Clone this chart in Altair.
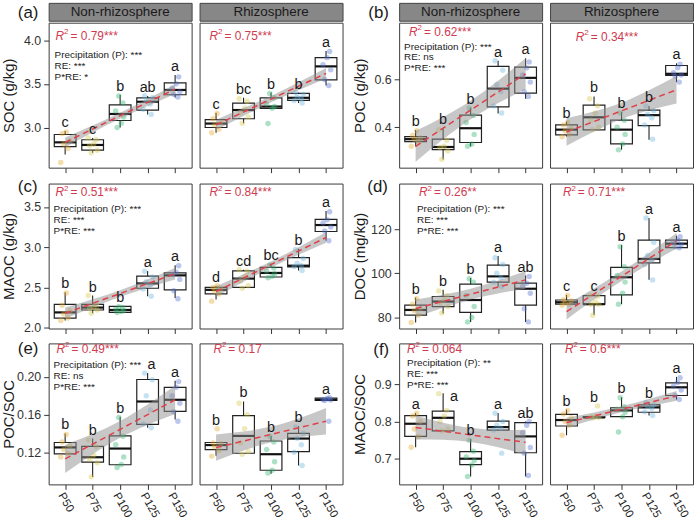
import altair as alt
import pandas as pd

FONT = "Liberation Sans"
LEVELS = ["P50", "P75", "P100", "P125", "P150"]
ZONES = ["Non-rhizosphere", "Rhizosphere"]
LEVEL_COLORS = ["#E3A92B", "#D8C84A", "#33B36E", "#6FB6E2", "#5470D2"]

# Box statistics per precipitation level: [lower whisker, Q1, median, Q3, upper whisker]
# ---- SOC (g/kg)
SOC_NR_BOX = [[2.69, 2.78, 2.83, 2.92, 2.96], [2.71, 2.74, 2.80, 2.86, 2.88],
              [3.00, 3.08, 3.155, 3.26, 3.375], [3.15, 3.20, 3.295, 3.34, 3.36],
              [3.345, 3.375, 3.43, 3.51, 3.60]]
SOC_NR_PTS = [[2.60, 2.76, 2.81, 2.85, 2.93, 2.95], [2.71, 2.74, 2.79, 2.81, 2.86, 2.88],
              [3.00, 3.05, 3.12, 3.19, 3.28, 3.36], [3.15, 3.21, 3.27, 3.31, 3.34, 3.36],
              [3.35, 3.38, 3.41, 3.45, 3.50, 3.58]]
SOC_NR_LET = ["c", "c", "b", "ab", "a"]
SOC_NR_FIT = [2.83, 3.44]
SOC_NR_CI = [0.055, 0.040, 0.033, 0.040, 0.055]
SOC_R_BOX = [[2.94, 3.00, 3.045, 3.09, 3.17], [3.05, 3.10, 3.20, 3.28, 3.34],
             [3.22, 3.22, 3.24, 3.34, 3.40], [3.28, 3.31, 3.34, 3.39, 3.40],
             [3.48, 3.545, 3.70, 3.80, 3.875]]
SOC_R_PTS = [[2.94, 2.98, 3.03, 3.06, 3.10, 3.16], [3.05, 3.12, 3.17, 3.22, 3.30, 3.33],
             [3.045, 3.22, 3.24, 3.27, 3.34, 3.39], [3.28, 3.31, 3.33, 3.35, 3.38, 3.40],
             [3.48, 3.55, 3.66, 3.72, 3.80, 3.87]]
SOC_R_LET = ["c", "bc", "b", "b", "a"]
SOC_R_FIT = [3.03, 3.62]
SOC_R_CI = [0.060, 0.045, 0.037, 0.045, 0.060]

# ---- POC (g/kg)
POC_NR_BOX = [[0.319, 0.34, 0.35, 0.361, 0.389], [0.264, 0.306, 0.317, 0.35, 0.396],
              [0.319, 0.336, 0.396, 0.451, 0.482], [0.458, 0.486, 0.5625, 0.656, 0.68],
              [0.52, 0.544, 0.608, 0.653, 0.69]]
POC_NR_PTS = [[0.32, 0.34, 0.35, 0.355, 0.365, 0.385], [0.265, 0.30, 0.315, 0.32, 0.345, 0.39],
              [0.32, 0.33, 0.37, 0.42, 0.45, 0.48], [0.46, 0.49, 0.55, 0.58, 0.64, 0.68],
              [0.53, 0.55, 0.59, 0.62, 0.65, 0.675]]
POC_NR_LET = ["b", "b", "b", "a", "a"]
POC_NR_FIT = [0.32, 0.625]
POC_NR_CI = [0.065, 0.047, 0.039, 0.047, 0.065]
POC_R_BOX = [[0.361, 0.368, 0.39, 0.41, 0.424], [0.389, 0.389, 0.442, 0.493, 0.53],
             [0.306, 0.33, 0.39, 0.43, 0.465], [0.347, 0.407, 0.451, 0.472, 0.49],
             [0.59, 0.618, 0.625, 0.66, 0.669]]
POC_R_PTS = [[0.36, 0.37, 0.385, 0.395, 0.41, 0.42], [0.39, 0.40, 0.43, 0.46, 0.49, 0.52],
             [0.305, 0.33, 0.37, 0.40, 0.43, 0.46], [0.35, 0.41, 0.44, 0.455, 0.47, 0.49],
             [0.59, 0.615, 0.62, 0.63, 0.65, 0.665]]
POC_R_LET = ["b", "b", "b", "b", "a"]
POC_R_FIT = [0.38, 0.558]
POC_R_CI = [0.058, 0.042, 0.034, 0.042, 0.058]

# ---- MAOC (g/kg)
MAOC_NR_BOX = [[2.09, 2.12, 2.19, 2.29, 2.44], [2.18, 2.22, 2.25, 2.29, 2.40],
               [2.19, 2.19, 2.22, 2.265, 2.265], [2.39, 2.49, 2.55, 2.64, 2.705],
               [2.37, 2.47, 2.65, 2.68, 2.775]]
MAOC_NR_PTS = [[2.09, 2.12, 2.17, 2.21, 2.28, 2.43], [2.18, 2.22, 2.24, 2.26, 2.29, 2.40],
               [2.19, 2.20, 2.21, 2.23, 2.25, 2.26], [2.39, 2.48, 2.53, 2.57, 2.63, 2.70],
               [2.36, 2.46, 2.60, 2.66, 2.69, 2.77]]
MAOC_NR_LET = ["b", "b", "b", "a", "a"]
MAOC_NR_FIT = [2.18, 2.67]
MAOC_NR_CI = [0.070, 0.050, 0.040, 0.050, 0.070]
MAOC_R_BOX = [[2.35, 2.42, 2.47, 2.50, 2.52], [2.49, 2.50, 2.61, 2.705, 2.72],
              [2.63, 2.63, 2.68, 2.75, 2.79], [2.71, 2.755, 2.77, 2.87, 2.98],
              [3.08, 3.195, 3.275, 3.345, 3.45]]
MAOC_R_PTS = [[2.33, 2.42, 2.45, 2.48, 2.50, 2.52], [2.49, 2.52, 2.58, 2.64, 2.70, 2.72],
              [2.62, 2.64, 2.67, 2.70, 2.74, 2.78], [2.71, 2.76, 2.77, 2.80, 2.86, 2.97],
              [3.08, 3.20, 3.25, 3.30, 3.34, 3.44]]
MAOC_R_LET = ["d", "cd", "bc", "b", "a"]
MAOC_R_FIT = [2.45, 3.12]
MAOC_R_CI = [0.065, 0.047, 0.038, 0.047, 0.065]

# ---- DOC (mg/kg)
DOC_NR_BOX = [[77.7, 81.1, 83.4, 85.6, 89.0], [81.8, 84.9, 87.2, 89.5, 92.5],
              [78.0, 82.3, 87.9, 95.1, 97.9], [94.0, 96.0, 98.6, 103.7, 107.8],
              [78.0, 85.6, 93.0, 95.5, 99.0]]
DOC_NR_PTS = [[77.7, 81.0, 83.0, 84.0, 86.0, 88.5], [82.0, 85.0, 86.5, 88.0, 90.0, 92.0],
              [78.0, 80.0, 85.0, 90.0, 96.0, 97.5], [94.0, 96.0, 98.0, 100.0, 104.0, 107.0],
              [78.0, 84.0, 91.0, 94.0, 95.5, 98.5]]
DOC_NR_LET = ["b", "b", "b", "a", "ab"]
DOC_NR_FIT = [84.1, 97.0]
DOC_NR_CI = [4.0, 2.9, 2.4, 2.9, 4.0]
DOC_R_BOX = [[86.0, 86.0, 86.9, 87.9, 90.2], [81.1, 86.0, 86.0, 89.9, 89.9],
             [86.0, 90.2, 98.2, 102.7, 112.8], [97.1, 104.7, 106.5, 115.0, 125.0],
             [111.6, 111.6, 113.4, 115.0, 117.0]]
DOC_R_PTS = [[85.5, 86.0, 86.5, 87.5, 88.0, 90.0], [81.0, 86.0, 86.0, 87.0, 89.5, 90.0],
             [86.0, 91.0, 96.0, 99.0, 103.0, 112.0], [97.0, 104.0, 106.0, 108.0, 114.0, 125.0],
             [111.5, 112.0, 113.0, 114.0, 115.0, 116.5]]
DOC_R_LET = ["c", "c", "b", "a", "a"]
DOC_R_FIT = [82.6, 114.7]
DOC_R_CI = [3.5, 2.5, 2.1, 2.5, 3.5]

# ---- POC/SOC
PS_NR_BOX = [[0.118, 0.1183, 0.1252, 0.1304, 0.140], [0.0939, 0.1096, 0.1148, 0.1263, 0.1346],
             [0.1068, 0.1068, 0.124, 0.1374, 0.1576], [0.146, 0.1496, 0.1739, 0.1972, 0.2042],
             [0.1548, 0.1635, 0.1757, 0.1889, 0.1958]]
PS_NR_PTS = [[0.115, 0.119, 0.123, 0.127, 0.131, 0.139], [0.094, 0.109, 0.113, 0.117, 0.126, 0.133],
             [0.104, 0.107, 0.115, 0.128, 0.137, 0.157], [0.146, 0.150, 0.165, 0.180, 0.197, 0.204],
             [0.153, 0.163, 0.172, 0.180, 0.189, 0.195]]
PS_NR_LET = ["b", "b", "b", "a", "a"]
PS_NR_FIT = [0.113, 0.1757]
PS_NR_CI = [0.0150, 0.0108, 0.0090, 0.0108, 0.0150]
PS_R_BOX = [[0.1165, 0.1228, 0.1277, 0.1304, 0.1304], [0.119, 0.119, 0.1374, 0.159, 0.174],
            [0.0974, 0.101, 0.118, 0.132, 0.1374], [0.106, 0.1207, 0.1346, 0.140, 0.1478],
            [0.175, 0.175, 0.1757, 0.1774, 0.1774]]
PS_R_PTS = [[0.116, 0.122, 0.126, 0.129, 0.130, 0.145], [0.118, 0.121, 0.130, 0.145, 0.160, 0.172],
            [0.098, 0.101, 0.110, 0.123, 0.131, 0.137], [0.106, 0.120, 0.128, 0.135, 0.140, 0.147],
            [0.153, 0.175, 0.1755, 0.176, 0.177, 0.178]]
PS_R_LET = ["b", "b", "b", "b", "a"]
PS_R_FIT = [0.125, 0.153]
PS_R_CI = [0.014, 0.010, 0.0083, 0.010, 0.014]

# ---- MAOC/SOC
MS_NR_BOX = [[0.731, 0.760, 0.794, 0.816, 0.823], [0.775, 0.775, 0.810, 0.828, 0.876],
             [0.652, 0.684, 0.700, 0.719, 0.753], [0.777, 0.777, 0.785, 0.801, 0.823],
             [0.652, 0.716, 0.760, 0.797, 0.800]]
MS_NR_PTS = [[0.731, 0.760, 0.780, 0.800, 0.815, 0.822], [0.775, 0.780, 0.800, 0.815, 0.830, 0.875],
             [0.652, 0.683, 0.695, 0.705, 0.720, 0.750], [0.715, 0.777, 0.782, 0.790, 0.800, 0.822],
             [0.655, 0.715, 0.730, 0.770, 0.790, 0.800]]
MS_NR_LET = ["a", "a", "b", "a", "ab"]
MS_NR_FIT = [0.784, 0.744]
MS_NR_CI = [0.032, 0.023, 0.019, 0.023, 0.034]
MS_R_BOX = [[0.763, 0.788, 0.804, 0.819, 0.832], [0.811, 0.811, 0.811, 0.813, 0.813],
            [0.813, 0.813, 0.830, 0.837, 0.865], [0.816, 0.825, 0.838, 0.845, 0.852],
            [0.859, 0.870, 0.892, 0.904, 0.920]]
MS_R_PTS = [[0.763, 0.790, 0.800, 0.810, 0.820, 0.830], [0.810, 0.811, 0.812, 0.813, 0.842],
            [0.772, 0.813, 0.825, 0.833, 0.840, 0.864], [0.816, 0.826, 0.835, 0.840, 0.845, 0.852],
            [0.859, 0.870, 0.885, 0.895, 0.905, 0.918]]
MS_R_LET = ["b", "b", "b", "b", "a"]
MS_R_FIT = [0.797, 0.869]
MS_R_CI = [0.013, 0.0095, 0.008, 0.0095, 0.013]

PLOT_W = 144
BOX_HALF = 0.395
JITTER = [-0.16, 0.10, -0.05, 0.17, -0.11, 0.04, 0.13]
RED = "#CF3A4E"
INK = "#1a1a1a"


def facet(box, pts, letters, fit, ci, r2, ydom, yticks, yfmt, ytitle, height,
          first, bottom, r2_at, stats=None, stats_at=None, tag=None, tag_at=None,
          shifted=None):
    """One facet panel. `shifted` maps a level index to a (dx, dy) pixel nudge
    for its letter when it would sit on top of the statistics block."""
    shifted = shifted or {}
    pos = [1, 2, 3, 4, 5]
    bdf = pd.DataFrame({
        "pos": pos, "level": LEVELS,
        "lo": [b[0] for b in box], "q1": [b[1] for b in box], "med": [b[2] for b in box],
        "q3": [b[3] for b in box], "hi": [b[4] for b in box],
        "letter": letters,
        "top": [max(b[4], max(p)) for b, p in zip(box, pts)],
    })
    bdf["xl"] = bdf["pos"] - BOX_HALF
    bdf["xr"] = bdf["pos"] + BOX_HALF
    rows = []
    for i, vals in enumerate(pts):
        for k, v in enumerate(vals):
            rows.append({"level": LEVELS[i], "value": v,
                         "xj": i + 1 + JITTER[(k + 2 * i) % len(JITTER)]})
    pdf = pd.DataFrame(rows)
    fitted = [fit[0] + (fit[1] - fit[0]) * (p - 1) / 4 for p in pos]
    band = pd.DataFrame({"pos": pos,
                         "lo": [f - c for f, c in zip(fitted, ci)],
                         "hi": [f + c for f, c in zip(fitted, ci)]})
    line = pd.DataFrame({"pos": [1, 5], "fit": fit})

    xs = alt.Scale(domain=[0.4, 5.6], nice=False, zero=False)
    ys = alt.Scale(domain=ydom, nice=False, zero=False)
    if bottom:
        label_expr = "[" + ",".join("'%s'" % l for l in LEVELS) + "][datum.value - 1]"
        x_axis = alt.Axis(values=pos, labelExpr=label_expr, labelAngle=60, labelAlign="left",
                          labelBaseline="top", labelFontSize=11.5, labelFont=FONT,
                          labelColor="#222", labelPadding=1, labelOverlap=False,
                          labelFlush=False, tickSize=5, tickColor="#333", domain=False,
                          grid=False, title=None)
    else:
        x_axis = alt.Axis(values=pos, labels=False, tickSize=5, tickColor="#333",
                          domain=False, grid=False, title=None)
    if first:
        y_axis = alt.Axis(values=yticks, format=yfmt, grid=False, domain=False, tickSize=5,
                          tickColor="#333", labelFontSize=12.5, labelFont=FONT,
                          labelColor="#333", labelPadding=3, titleFontSize=15,
                          titleFont=FONT, titleFontWeight="normal", titleColor=INK,
                          titlePadding=4, minExtent=28, maxExtent=28, title=ytitle)
    else:
        y_axis = None

    def X(f):
        return alt.X(f, type="quantitative", scale=xs, axis=x_axis, title=None)

    def Y(f):
        return alt.Y(f, type="quantitative", scale=ys, axis=y_axis,
                     title=ytitle if first else None)

    plain = bdf[~bdf.index.isin(list(shifted))]
    layers = [
        alt.Chart(bdf).mark_rule(color="#222", strokeWidth=1.1).encode(
            x=X("pos"), y=Y("lo"), y2="hi"),
        alt.Chart(bdf).mark_rect(fill="white", stroke="#222", strokeWidth=1.2).encode(
            x=X("xl"), x2="xr", y=Y("q1"), y2="q3"),
        alt.Chart(bdf).mark_rule(color="#111", strokeWidth=2.2).encode(
            x=X("xl"), x2="xr", y=Y("med")),
        alt.Chart(pdf).mark_circle(size=30, opacity=0.4).encode(
            x=X("xj"), y=Y("value"),
            color=alt.Color("level:N", scale=alt.Scale(domain=LEVELS, range=LEVEL_COLORS),
                            legend=None)),
        alt.Chart(band).mark_area(color="#8f8f8f", opacity=0.5, interpolate="monotone").encode(
            x=X("pos"), y=Y("lo"), y2="hi"),
        alt.Chart(line).mark_line(color="#E0404A", strokeDash=[6, 4], strokeWidth=1.5).encode(
            x=X("pos"), y=Y("fit")),
        alt.Chart(plain).mark_text(fontSize=14.5, font=FONT, baseline="alphabetic", dy=-4,
                                   color=INK).encode(x=X("pos"), y=Y("top"), text="letter:N"),
    ]
    for idx, (ddx, ddy) in shifted.items():
        layers.append(alt.Chart(bdf.iloc[[idx]]).mark_text(
            fontSize=14.5, font=FONT, baseline="alphabetic", dx=ddx, dy=-4 + ddy,
            color=INK).encode(x=X("pos"), y=Y("top"), text="letter:N"))
    one = pd.DataFrame({"k": [0]})
    rx, ry = r2_at
    layers += [
        alt.Chart(one).mark_text(text="R", fontStyle="italic", fontSize=12, font=FONT,
                                 color=RED, align="left", baseline="middle").encode(
            x=alt.value(rx), y=alt.value(ry)),
        alt.Chart(one).mark_text(text="2", fontSize=8, font=FONT, color=RED,
                                 align="left", baseline="middle").encode(
            x=alt.value(rx + 8.5), y=alt.value(ry - 4)),
        alt.Chart(one).mark_text(text="= " + r2, fontSize=12, font=FONT, color=RED,
                                 align="left", baseline="middle").encode(
            x=alt.value(rx + 15), y=alt.value(ry)),
    ]
    if stats:
        sx, sy = stats_at
        layers.append(alt.Chart(one).mark_text(text=stats, fontSize=10, font=FONT,
                                               color=INK, align="left", baseline="top",
                                               lineHeight=10.8).encode(
            x=alt.value(sx), y=alt.value(sy - 5)))
    if tag:
        tx, ty = tag_at
        layers.append(alt.Chart(one).mark_text(text=tag, fontSize=17, font=FONT, color=INK,
                                               align="left", baseline="middle").encode(
            x=alt.value(tx), y=alt.value(ty)))
    return alt.layer(*layers).properties(
        width=PLOT_W, height=height,
        view=alt.ViewBackground(fill="white", stroke="#3a3a3a", strokeWidth=1))


def strip(zone, tag=None):
    one = pd.DataFrame({"z": [zone]})
    layers = [alt.Chart(one).mark_text(fontSize=13.5, font=FONT, color=INK,
                                       baseline="middle").encode(
        text="z:N", x=alt.value(PLOT_W / 2), y=alt.value(9.5))]
    if tag:
        layers.append(alt.Chart(one).mark_text(text=tag, fontSize=17, font=FONT, color=INK,
                                               align="left", baseline="middle").encode(
            x=alt.value(-31), y=alt.value(10)))
    return alt.layer(*layers).properties(
        width=PLOT_W, height=18,
        view=alt.ViewBackground(fill="#878787", stroke="#444", strokeWidth=1))


def pair(left, right):
    return alt.hconcat(left, right, spacing=6)


def with_strip(chart, zone, tag=None):
    return alt.vconcat(strip(zone, tag), chart, spacing=0)


STATS_A = ["Precipitation (P): ***", "RE: ***", "P*RE: *"]
STATS_B = ["Precipitation (P): ***", "RE: ns", "P*RE: ***"]
STATS_C = ["Precipitation (P): ***", "RE: ***", "P*RE: ***"]
STATS_D = ["Precipitation (P): ***", "RE: ***", "P*RE: ***"]
STATS_E = ["Precipitation (P): ***", "RE: ns", "P*RE: ***"]
STATS_F = ["Precipitation (P): **", "RE: ***", "P*RE: ***"]

H1, H2, H3 = 146, 146, 142

soc_l = facet(SOC_NR_BOX, SOC_NR_PTS, SOC_NR_LET, SOC_NR_FIT, SOC_NR_CI, "0.79***",
              [2.54, 4.20], [3.0, 3.5, 4.0], ".1f", "SOC (g/kg)", H1, True, False,
              (7, 13), STATS_A, (6, 33))
soc_r = facet(SOC_R_BOX, SOC_R_PTS, SOC_R_LET, SOC_R_FIT, SOC_R_CI, "0.75***",
              [2.54, 4.20], [3.0, 3.5, 4.0], ".1f", "SOC (g/kg)", H1, False, False, (10, 13))
poc_l = facet(POC_NR_BOX, POC_NR_PTS, POC_NR_LET, POC_NR_FIT, POC_NR_CI, "0.62***",
              [0.23, 0.84], [0.4, 0.6], ".1f", "POC (g/kg)", H1, True, False,
              (10, 9), STATS_B, (5, 24))
poc_r = facet(POC_R_BOX, POC_R_PTS, POC_R_LET, POC_R_FIT, POC_R_CI, "0.34***",
              [0.23, 0.84], [0.4, 0.6], ".1f", "POC (g/kg)", H1, False, False, (26, 14))

maoc_l = facet(MAOC_NR_BOX, MAOC_NR_PTS, MAOC_NR_LET, MAOC_NR_FIT, MAOC_NR_CI, "0.51***",
               [1.99, 3.79], [2.0, 2.5, 3.0, 3.5], ".1f", "MAOC (g/kg)", H2, True, False,
               (7, 9), STATS_C, (5, 26), "(c)", (-31, 4))
maoc_r = facet(MAOC_R_BOX, MAOC_R_PTS, MAOC_R_LET, MAOC_R_FIT, MAOC_R_CI, "0.84***",
               [1.99, 3.79], [2.0, 2.5, 3.0, 3.5], ".1f", "MAOC (g/kg)", H2, False, False,
               (10, 9))
doc_l = facet(DOC_NR_BOX, DOC_NR_PTS, DOC_NR_LET, DOC_NR_FIT, DOC_NR_CI, "0.26**",
              [75, 140.6], [80, 100, 120], "d", "DOC (mg/kg)", H2, True, False,
              (20, 9), STATS_D, (18, 26), "(d)", (-32, 4))
doc_r = facet(DOC_R_BOX, DOC_R_PTS, DOC_R_LET, DOC_R_FIT, DOC_R_CI, "0.71***",
              [75, 140.6], [80, 100, 120], "d", "DOC (mg/kg)", H2, False, False, (13, 9))

ps_l = facet(PS_NR_BOX, PS_NR_PTS, PS_NR_LET, PS_NR_FIT, PS_NR_CI, "0.49***",
             [0.086, 0.2355], [0.12, 0.16, 0.20], ".2f", "POC/SOC", H3, True, True,
             (8, 6), STATS_E, (5, 22), "(e)", (-31, 6), shifted={3: (4, 0)})
ps_r = facet(PS_R_BOX, PS_R_PTS, PS_R_LET, PS_R_FIT, PS_R_CI, "0.17",
             [0.086, 0.2355], [0.12, 0.16, 0.20], ".2f", "POC/SOC", H3, False, True, (14, 6))
ms_l = facet(MS_NR_BOX, MS_NR_PTS, MS_NR_LET, MS_NR_FIT, MS_NR_CI, "0.064",
             [0.631, 1.01], [0.7, 0.8, 0.9], ".1f", "MAOC/SOC", H3, True, True,
             (8, 6), STATS_F, (8, 20), "(f)", (-26, 7), shifted={1: (11, 12)})
ms_r = facet(MS_R_BOX, MS_R_PTS, MS_R_LET, MS_R_FIT, MS_R_CI, "0.6***",
             [0.631, 1.01], [0.7, 0.8, 0.9], ".1f", "MAOC/SOC", H3, False, True, (15, 6))

row1 = alt.hconcat(
    pair(with_strip(soc_l, ZONES[0], "(a)"), with_strip(soc_r, ZONES[1])),
    pair(with_strip(poc_l, ZONES[0], "(b)"), with_strip(poc_r, ZONES[1])),
    spacing=8)
row2 = alt.hconcat(pair(maoc_l, maoc_r), pair(doc_l, doc_r), spacing=8)
row3 = alt.hconcat(pair(ps_l, ps_r), pair(ms_l, ms_r), spacing=8)

chart = alt.vconcat(row1, row2, row3, spacing=4).properties(
    padding={"left": 1, "top": 0, "right": 1, "bottom": 0},
    background="white",
).configure(font=FONT)

chart.save("out.html", embed_options={"renderer": "svg", "actions": False})
